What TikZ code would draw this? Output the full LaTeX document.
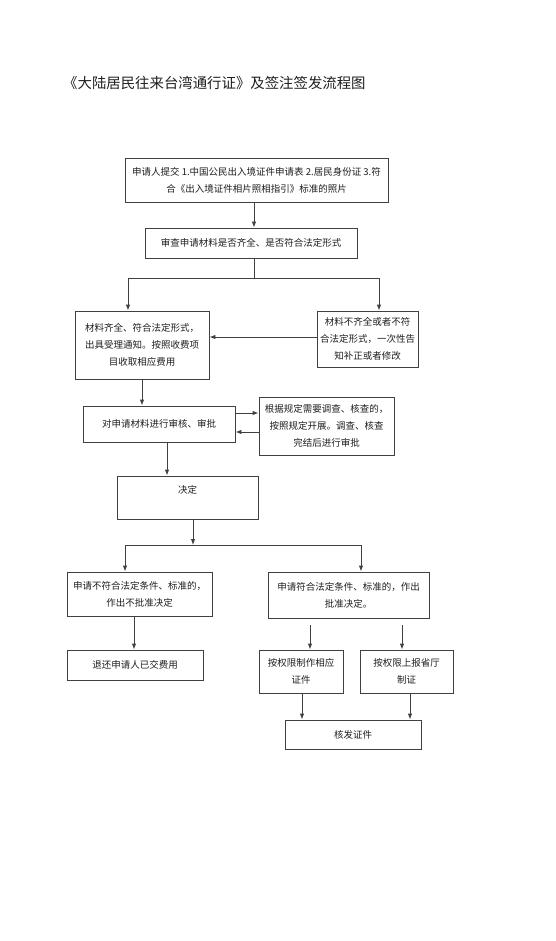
\documentclass[tikz,border=0pt]{standalone}
\usepackage{fontspec}
\newfontfamily\cjk{Noto Sans CJK SC}
\usetikzlibrary{arrows.meta}
\definecolor{frame}{HTML}{404040}
\definecolor{ink}  {HTML}{1E1E1E}

\begin{document}
\begin{tikzpicture}[x=1pt, y=-1pt,
    box/.style={draw=frame, line width=0.9pt, align=center, inner sep=0pt, text=ink, font=\cjk\fontsize{9.5}{17}\selectfont},
    arr/.style={draw=frame, line width=0.9pt, -{Latex[length=6pt, width=4.5pt]}},
    link/.style={draw=frame, line width=0.9pt}]
  \useasboundingbox (0,0) rectangle (555,941);

  \node[anchor=west, inner sep=0pt, text=ink, font=\cjk\fontsize{14.4}{16}\selectfont] (title) at (63,83) {《大陆居民往来台湾通行证》及签注签发流程图};

  % application and first check
  \node[box, minimum width=263pt, minimum height=44pt] (apply) at (256.5,180) {申请人提交 1.中国公民出入境证件申请表 2.居民身份证 3.符\\合《出入境证件相片照相指引》标准的照片};
  \node[box, minimum width=212pt, minimum height=30pt] (check) at (251,243) {审查申请材料是否齐全、是否符合法定形式};
  \node[box, minimum width=134pt, minimum height=68pt] (ok) at (142,345) {材料齐全、符合法定形式，\\出具受理通知。按照收费项\\目收取相应费用};
  \node[box, minimum width=101pt, minimum height=56pt] (bad) at (367.5,339) {材料不齐全或者不符\\合法定形式，一次性告\\知补正或者修改};

  % review
  \node[box, minimum width=152pt, minimum height=36pt] (review) at (159,424) {对申请材料进行审核、审批};
  \node[box, minimum width=135pt, minimum height=58pt] (probe) at (326.5,426) {根据规定需要调查、核查的，\\按照规定开展。调查、核查\\完结后进行审批};
  \node[box, minimum width=141pt, minimum height=43pt] (decide) at (187.5,497.5) {};
  \node[inner sep=0pt, text=ink, font=\cjk\fontsize{9.5}{17}\selectfont] (decidetxt) at (187.5,490) {决定};

  % outcomes
  \node[box, minimum width=145pt, minimum height=44pt] (reject) at (139.5,594) {申请不符合法定条件、标准的，\\作出不批准决定};
  \node[box, minimum width=161pt, minimum height=46pt] (approve) at (348.5,595) {申请符合法定条件、标准的，作出\\批准决定。};
  \node[box, minimum width=136pt, minimum height=30pt] (refund) at (135,665) {退还申请人已交费用};
  \node[box, minimum width=84pt, minimum height=43pt] (make) at (301,671.5) {按权限制作相应\\证件};
  \node[box, minimum width=93pt, minimum height=43pt] (report) at (406.5,671.5) {按权限上报省厅\\制证};
  \node[box, minimum width=136pt, minimum height=29pt] (issue) at (353,734.5) {核发证件};

  \coordinate (forkA) at (254,278);
  \coordinate (forkAl) at (128,278);
  \coordinate (forkAr) at (379,278);
  \coordinate (forkB) at (193,545);
  \coordinate (forkBl) at (125,545);
  \coordinate (forkBr) at (361,545);
  \coordinate (makein) at (310,625);
  \coordinate (reportin) at (402,625);

  \draw[arr] (apply.south -| forkA) -- (check.north -| forkA);
  \draw[link] (check.south -| forkA) -- (forkA);
  \draw[link] (forkAl) -- (forkAr);
  \draw[arr] (forkAl) -- (ok.north -| forkAl);
  \draw[arr] (forkAr) -- (bad.north -| forkAr);
  \draw[arr] (bad.west |- 0,337) -- (ok.east |- 0,337);
  \draw[arr] (ok.south) -- (review.north -| ok.south);
  \draw[arr] (review.east |- 0,413) -- (probe.west |- 0,413);
  \draw[arr] (probe.west |- 0,432) -- (review.east |- 0,432);
  \draw[arr] (review.south -| 167,0) -- (decide.north -| 167,0);
  \draw[arr] (decide.south -| forkB) -- (forkB);
  \draw[link] (forkBl) -- (forkBr);
  \draw[arr] (forkBl) -- (reject.north -| forkBl);
  \draw[arr] (forkBr) -- (approve.north -| forkBr);
  \draw[arr] (reject.south -| 134,0) -- (refund.north -| 134,0);
  \draw[arr] (makein) -- (make.north -| makein);
  \draw[arr] (reportin) -- (report.north -| reportin);
  \draw[arr] (make.south -| 302,0) -- (issue.north -| 302,0);
  \draw[arr] (report.south -| 410,0) -- (issue.north -| 410,0);
\end{tikzpicture}
\end{document}
